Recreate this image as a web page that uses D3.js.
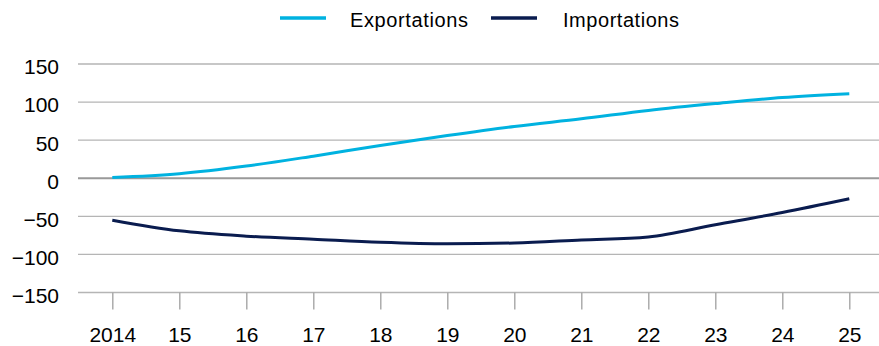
<!DOCTYPE html>
<html lang="en">
<head>
  <meta charset="UTF-8">
  <title>Exportations / Importations</title>
  <style>
    body { margin: 0; background: #fff; }
    text { font-family: "Liberation Sans", Arial, sans-serif; fill: #000; }
  </style>
</head>
<body>
  <div id="svg"></div>
  <script src="https://d3js.org/d3.v7.min.js"></script>
  <script>
    const years = ['2014', '15', '16', '17', '18', '19', '20', '21', '22', '23', '24', '25']
    const exportations = [1, 6, 16, 29, 43, 56, 68, 78, 89, 98, 106, 111]
    const importations = [-55, -69, -76, -80, -84, -86, -85, -81, -77, -61, -45, -27]
    const yTicks = [-150, -100, -50, 0, 50, 100, 150]
    const seriesNames = ['Exportations', 'Importations']
    const colors = ['#00b2e0', '#0a1c4f']

    const width = 879
    const height = 346
    const svg = d3.select('#svg').append('svg').attr('width', width).attr('height', height)

    const plotLeft = 78
    const plotRight = 879
    const yScale = d3.scaleLinear().domain([-150, 150]).range([292.5, 64])
    const xScale = d3.scalePoint().domain(years).range([112.3, 849.3])

    // gridlines
    svg.append('g').selectAll('line').data(yTicks).enter().append('line')
      .attr('x1', plotLeft).attr('x2', plotRight)
      .attr('y1', d => yScale(d)).attr('y2', d => yScale(d))
      .attr('stroke', d => d === 0 ? '#999' : '#b5b5b5')
      .attr('stroke-width', d => d === 0 ? 2.2 : 1.4)

    // y labels
    const fmt = d => d < 0 ? '\u2212' + Math.abs(d) : String(d)
    const yAxis = d3.axisLeft(yScale).tickValues(yTicks).tickSize(0).tickPadding(0).tickFormat(fmt)
    const gY = svg.append('g').attr('transform', 'translate(59,0)').call(yAxis)
    gY.select('.domain').remove()
    gY.selectAll('text').attr('font-size', 21).attr('font-family', '"Liberation Sans", Arial, sans-serif').attr('fill', '#000').attr('dy', '0.47em')

    // x axis
    const xAxis = d3.axisBottom(xScale).tickSize(17).tickPadding(18)
    const gX = svg.append('g').attr('transform', `translate(0,${yScale(-150)})`).call(xAxis)
    gX.select('.domain').remove()
    gX.selectAll('.tick line').attr('stroke', '#a6a6a6').attr('stroke-width', 1.4)
    gX.selectAll('text').attr('font-size', 21).attr('font-family', '"Liberation Sans", Arial, sans-serif').attr('fill', '#000')

    // lines
    const line = d3.line()
      .x((d, i) => xScale(years[i]))
      .y(d => yScale(d))
      .curve(d3.curveMonotoneX)

    ;[exportations, importations].forEach((s, k) => {
      svg.append('path').datum(s)
        .attr('fill', 'none')
        .attr('stroke', colors[k])
        .attr('stroke-width', 3)
        .attr('d', line)
    })

    // legend
    const legend = [
      { x1: 280, x2: 326, tx: 350 },
      { x1: 491, x2: 537, tx: 563 }
    ]
    legend.forEach((l, k) => {
      svg.append('line').attr('x1', l.x1).attr('x2', l.x2).attr('y1', 18).attr('y2', 18)
        .attr('stroke', colors[k]).attr('stroke-width', 3.5)
      svg.append('text').attr('x', l.tx).attr('y', 20).attr('dy', '0.35em')
        .attr('font-size', 20).attr('textLength', k === 0 ? 118 : 116).text(seriesNames[k])
    })
  </script>
</body>
</html>
